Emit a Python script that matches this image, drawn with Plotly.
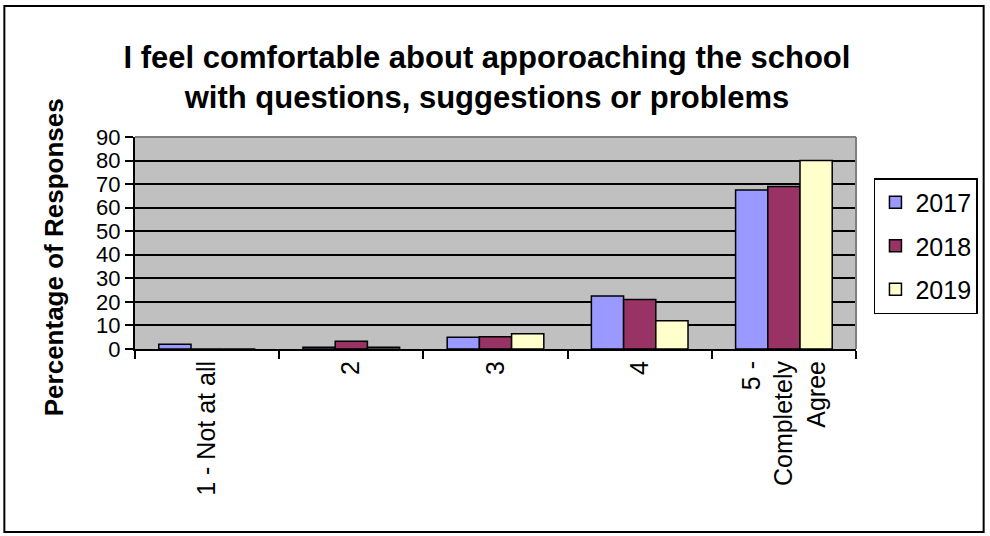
import plotly.graph_objects as go

categories = ["1 - Not at all", "2", "3", "4", "5 - Completely Agree"]
tick_labels = ["1 - Not at all", "2", "3", "4", "5 -<br>Completely<br>Agree"]
series_names = ["2017", "2018", "2019"]
values_2017 = [2, 0.7, 5, 22.5, 67.5]
values_2018 = [0, 3.3, 5.2, 21, 69]
values_2019 = [0, 0.7, 6.5, 12, 80]
y_ticks = [0, 10, 20, 30, 40, 50, 60, 70, 80, 90]

colors = ["#9999FF", "#993366", "#FFFFCC"]
FONT = "Liberation Sans, Arial, sans-serif"

fig = go.Figure()
for name, vals, col in zip(series_names, [values_2017, values_2018, values_2019], colors):
    fig.add_trace(go.Bar(
        x=categories, y=vals, name=name, legendgroup=name,
        marker=dict(color=col, line=dict(color="black", width=1.5)),
    ))

L, R, T, B = 135, 132, 137, 187
W, H = 990, 536
pw, ph = W - L - R, H - T - B

def px_x(px):
    return (px - L) / pw

def px_y(py):
    return (H - B - py) / ph

fig.update_layout(
    width=W, height=H,
    margin=dict(l=L, r=R, t=T, b=B),
    paper_bgcolor="white",
    plot_bgcolor="#C0C0C0",
    font=dict(family=FONT, color="black"),
    barmode="group", bargap=0.33, bargroupgap=0,
    title=dict(
        text="I feel comfortable about apporoaching the school<br>with questions, suggestions or problems",
        x=487 / W, xanchor="center", y=1 - 68 / H, yanchor="middle",
        font=dict(size=31, family=FONT, color="black", weight="bold"),
    ),
    legend=dict(
        x=px_x(876), y=px_y(178), xanchor="left", yanchor="top",
        bordercolor="black", borderwidth=1.5, bgcolor="white",
        font=dict(size=25, family=FONT), tracegroupgap=8,
    ),
    showlegend=True,
)

fig.update_xaxes(
    categoryorder="array", categoryarray=categories,
    tickvals=categories, ticktext=tick_labels,
    tickangle=-90, tickfont=dict(size=25, family=FONT),
    tickson="boundaries", ticks="outside", ticklen=8, tickwidth=1.5, tickcolor="black",
    showline=True, linecolor="black", linewidth=2,
    showgrid=False, zeroline=False,
)
fig.update_yaxes(
    range=[0, 90], tickvals=y_ticks,
    tickfont=dict(size=22, family=FONT),
    ticks="outside", ticklen=8, tickwidth=1.5, tickcolor="black",
    showline=True, linecolor="black", linewidth=2,
    showgrid=True, gridcolor="black", gridwidth=2,
    zeroline=False,
)

# grey top/right plot border
fig.add_shape(type="line", xref="paper", yref="paper", x0=0, x1=1, y0=1, y1=1,
              line=dict(color="#808080", width=2))
fig.add_shape(type="line", xref="paper", yref="paper", x0=1, x1=1, y0=0, y1=1,
              line=dict(color="#808080", width=2))
# outer chart frame
fig.add_shape(type="rect", xref="paper", yref="paper",
              x0=px_x(4), x1=px_x(986), y0=px_y(532), y1=px_y(6),
              line=dict(color="black", width=2))

fig.add_annotation(
    text="<b>Percentage of Responses</b>", textangle=-90,
    xref="paper", yref="paper", x=px_x(54), y=px_y(257),
    xanchor="center", yanchor="middle", showarrow=False,
    font=dict(size=26, family=FONT, color="black"),
)

fig.write_html(
    "out.html",
    config={"displayModeBar": False},
    post_script="document.body.style.margin='0';document.body.style.padding='0';",
)
